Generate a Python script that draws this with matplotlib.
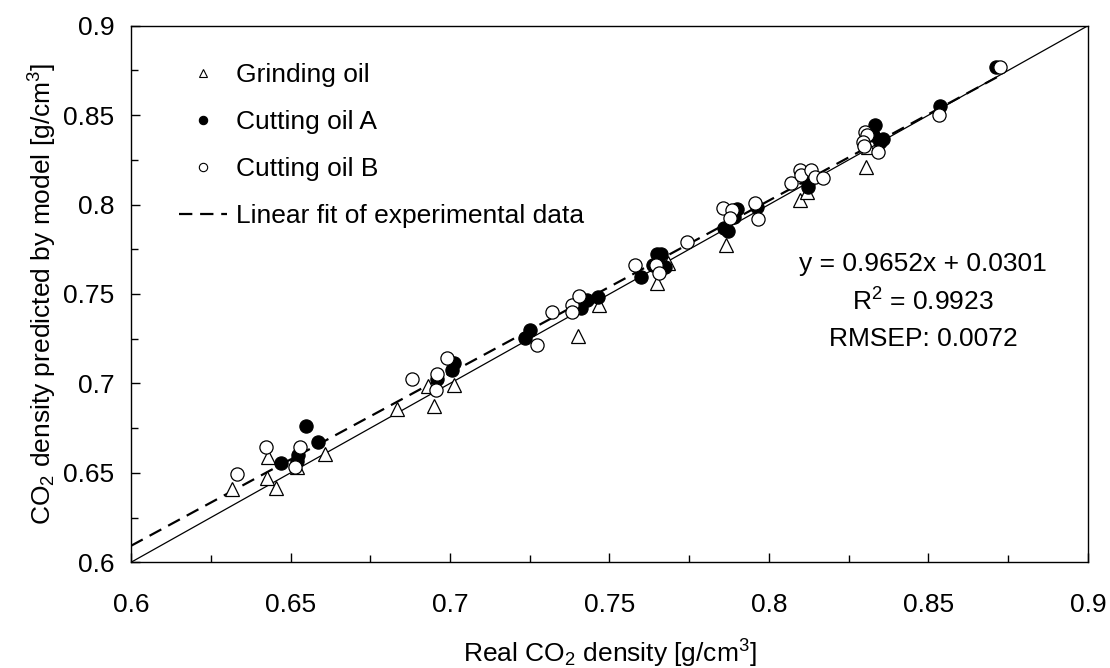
import matplotlib
matplotlib.use("Agg")
import matplotlib.pyplot as plt
from matplotlib.lines import Line2D
import numpy as np

plt.rcParams['font.family'] = ['Liberation Sans', 'DejaVu Sans']
plt.rcParams['mathtext.fontset'] = 'custom'
plt.rcParams['mathtext.rm'] = 'Liberation Sans'
plt.rcParams['mathtext.it'] = 'Liberation Sans:italic'

# ---- data ----
grinding_real = [0.6318, 0.6427, 0.6430, 0.6454, 0.6521, 0.6608, 0.6833, 0.6932, 0.6950, 0.7014,
                 0.7402, 0.7468, 0.7648, 0.7684, 0.7865, 0.8097, 0.8118, 0.8304, 0.8311]
grinding_pred = [0.6408, 0.6473, 0.6590, 0.6414, 0.6534, 0.6606, 0.6857, 0.6986, 0.6874, 0.6991,
                 0.7265, 0.7438, 0.7563, 0.7672, 0.7774, 0.8026, 0.8072, 0.8212, 0.8324]

oilA_real = [0.6470, 0.6519, 0.6522, 0.6549, 0.6585, 0.6958, 0.7005, 0.7013, 0.7235, 0.7251,
             0.7410, 0.7430, 0.7465, 0.7598, 0.7637, 0.7650, 0.7663, 0.7674, 0.7860, 0.7873,
             0.7889, 0.7899, 0.7961, 0.8123, 0.8123, 0.8327, 0.8332, 0.8348, 0.8356, 0.8536,
             0.8713]
oilA_pred = [0.6557, 0.6565, 0.6600, 0.6762, 0.6674, 0.7023, 0.7075, 0.7116, 0.7252, 0.7299,
             0.7420, 0.7467, 0.7482, 0.7597, 0.7662, 0.7724, 0.7724, 0.7653, 0.7867, 0.7854,
             0.7932, 0.7974, 0.7988, 0.8119, 0.8100, 0.8389, 0.8445, 0.8352, 0.8365, 0.8551,
             0.8770]

oilB_real = [0.6331, 0.6422, 0.6514, 0.6530, 0.6880, 0.6956, 0.6960, 0.6990, 0.7274, 0.7319,
             0.7381, 0.7381, 0.7405, 0.7580, 0.7646, 0.7656, 0.7744, 0.7857, 0.7883, 0.7878,
             0.7956, 0.7966, 0.8070, 0.8097, 0.8100, 0.8133, 0.8144, 0.8168, 0.8301, 0.8306,
             0.8296, 0.8298, 0.8343, 0.8534, 0.8725]
oilB_pred = [0.6494, 0.6643, 0.6534, 0.6643, 0.7025, 0.6963, 0.7051, 0.7141, 0.7215, 0.7401,
             0.7438, 0.7401, 0.7489, 0.7662, 0.7662, 0.7616, 0.7792, 0.7979, 0.7970, 0.7923,
             0.8007, 0.7918, 0.8119, 0.8193, 0.8165, 0.8193, 0.8156, 0.8147, 0.8407, 0.8389,
             0.8352, 0.8327, 0.8296, 0.8501, 0.8770]

fit_slope = 0.9652
fit_intercept = 0.0301
r2_text = "0.9923"
rmsep_text = "0.0072"

axis_min, axis_max = 0.6, 0.9
tick_vals = [0.6, 0.65, 0.7, 0.75, 0.8, 0.85, 0.9]
tick_labels = ["0.6", "0.65", "0.7", "0.75", "0.8", "0.85", "0.9"]

# ---- figure ----
FS = 19
fig = plt.figure(figsize=(11.10, 6.68), dpi=100)
ax = fig.add_axes([131/1110, 1 - 562.3/668, (1088-131)/1110, (562.3-25.7)/668])

# reference y = x line
ax.plot([axis_min, axis_max], [axis_min, axis_max], color='black', lw=0.9, zorder=2)
# linear fit (dashed)
xf = np.array([axis_min, max(max(grinding_real), max(oilA_real), max(oilB_real))])
ax.plot(xf, fit_slope * xf + fit_intercept, color='black', lw=1.6,
        dashes=(6, 3.5), zorder=2)

ms = 9.5
ax.plot(grinding_real, grinding_pred, linestyle='none', marker='^', ms=ms,
        mfc='white', mec='black', mew=0.9, zorder=3)
ax.plot(oilA_real, oilA_pred, linestyle='none', marker='o', ms=ms,
        mfc='black', mec='black', mew=0.9, zorder=4)
ax.plot(oilB_real, oilB_pred, linestyle='none', marker='o', ms=ms,
        mfc='white', mec='black', mew=0.9, zorder=5)

ax.set_xlim(axis_min, axis_max)
ax.set_ylim(axis_min, axis_max)
ax.set_xticks(tick_vals)
ax.set_xticklabels(tick_labels)
ax.set_yticks(tick_vals)
ax.set_yticklabels(tick_labels)
ax.set_xticks(np.arange(0.625, 0.9, 0.05), minor=True)
ax.set_yticks(np.arange(0.625, 0.9, 0.05), minor=True)
ax.tick_params(axis='both', which='both', direction='in', width=1.0,
               top=False, right=False, labelsize=FS)
ax.tick_params(axis='both', which='major', length=6.5)
ax.tick_params(axis='both', which='minor', length=5)
ax.tick_params(axis='x', which='major', pad=22)
ax.tick_params(axis='y', which='major', pad=12)
for s in ax.spines.values():
    s.set_linewidth(1.0)

ax.set_xlabel(r"Real CO$_\mathregular{2}$ density [g/cm$^\mathregular{3}$]", fontsize=FS, labelpad=15)
ax.set_ylabel(r"CO$_\mathregular{2}$ density predicted by model [g/cm$^\mathregular{3}$]", fontsize=FS, labelpad=3)

# equation text
ax.text(0.8483, 0.7668, "y = %.4fx + %.4f" % (fit_slope, fit_intercept),
        ha='center', va='center', fontsize=FS)
ax.text(0.8483, 0.7458, r"R$^\mathregular{2}$ = " + r2_text,
        ha='center', va='center', fontsize=FS)
ax.text(0.8483, 0.7251, "RMSEP: " + rmsep_text,
        ha='center', va='center', fontsize=FS)

handles = [
    Line2D([], [], linestyle='none', marker='^', ms=6, mfc='white', mec='black', mew=0.8),
    Line2D([], [], linestyle='none', marker='o', ms=6, mfc='black', mec='black', mew=0.8),
    Line2D([], [], linestyle='none', marker='o', ms=6, mfc='white', mec='black', mew=0.8),
    Line2D([], [], color='black', lw=1.6, dashes=(6, 3.5)),
]
labels = ["Grinding oil", "Cutting oil A", "Cutting oil B", "Linear fit of experimental data"]
leg = ax.legend(handles, labels, loc='upper left', bbox_to_anchor=(0.045, 0.940),
                frameon=False, fontsize=FS, handlelength=1.8, handletextpad=0.35,
                labelspacing=0.87, borderpad=0.2, borderaxespad=0.0)

fig.savefig("out.png", dpi=100)
